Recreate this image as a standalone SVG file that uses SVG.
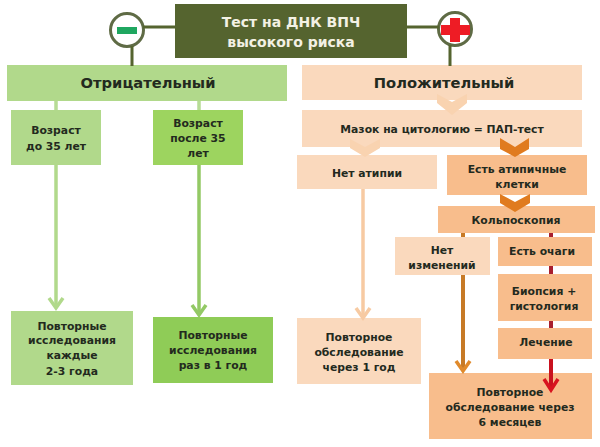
<svg xmlns="http://www.w3.org/2000/svg" width="600" height="447" viewBox="0 0 600 447">
<style>
text{font-family:"DejaVu Sans","Liberation Sans",sans-serif;font-weight:700;text-anchor:middle;fill:#232a1e;font-size:10.800px}
.big{font-size:14.700px}
.w{fill:#f3f1e4;font-size:14px}
.lg{fill:#b1d98b}.mg1{fill:#9dd45f}.mg2{fill:#8fcc57}.lo{fill:#fad9bd}.mo{fill:#f8bd8c}
.ln{fill:none}
.head{fill:none;stroke-width:3.500}
.chev-l{fill:#f9d3b0}.chev-d{fill:#e07b1f}
</style>
<rect width="600" height="447" fill="#fff"/>
<g id="root"><rect x="175" y="4" width="232" height="54" fill="#55642f"/><text class="w" x="291" y="27">Тест на ДНК ВПЧ</text><text class="w" x="291" y="47">высокого риска</text></g>
<g id="minus"><circle cx="127" cy="30" r="16.500" fill="#fff" stroke="#5f6b45" stroke-width="3"/><rect x="117" y="27" width="20" height="7" fill="#1fa760"/></g>
<g id="plus"><circle cx="455" cy="29" r="16.500" fill="#fff" stroke="#5f6b45" stroke-width="3"/><path d="M450 18H460V25H470V35H460V42H450V35H441V25H450Z" fill="#ee1c25"/></g>
<g id="neg"><rect x="7" y="65" width="280" height="36" class="lg"/><text class="big" x="148" y="88">Отрицательный</text></g>
<g id="age1"><rect x="11" y="110" width="90" height="55" class="lg"/><text x="56" y="134">Возраст</text><text x="56" y="150">до 35 лет</text></g>
<g id="age2"><rect x="153" y="110" width="90" height="55" class="mg1"/><text x="198" y="127">Возраст</text><text x="198" y="142">после 35</text><text x="198" y="157">лет</text></g>
<g id="rep1"><rect x="11" y="311" width="122" height="74" class="lg"/><text x="72" y="330">Повторные</text><text x="72" y="344">исследования</text><text x="72" y="359">каждые</text><text x="72" y="375">2-3 года</text></g>
<g id="rep2"><rect x="153" y="317" width="120" height="66" class="mg2"/><text x="213" y="339">Повторные</text><text x="213" y="354">исследования</text><text x="213" y="369">раз в 1 год</text></g>
<g id="pos"><rect x="302" y="65" width="280" height="35" class="lo"/><text class="big" x="444" y="88">Положительный</text></g>
<g id="pap"><rect x="302" y="110" width="280" height="37" class="lo"/><text x="442" y="133">Мазок на цитологию = ПАП-тест</text></g>
<g id="noatyp"><rect x="297" y="155" width="140" height="34" class="lo"/><text x="367" y="177">Нет атипии</text></g>
<g id="atyp"><rect x="447" y="155" width="140" height="40" class="mo"/><text x="517" y="173">Есть атипичные</text><text x="517" y="188">клетки</text></g>
<g id="colpo"><rect x="438" y="206" width="157" height="27" class="mo"/><text x="516" y="224">Кольпоскопия</text></g>
<g id="nochange"><rect x="395" y="237" width="95" height="38" class="lo"/><text x="442" y="254">Нет</text><text x="442" y="269">изменений</text></g>
<g id="foci"><rect x="498" y="237" width="94" height="29" class="mo"/><text x="542" y="255">Есть очаги</text></g>
<g id="biopsy"><rect x="498" y="274" width="94" height="47" class="mo"/><text x="544" y="295">Биопсия +</text><text x="544" y="310">гистология</text></g>
<g id="treat"><rect x="498" y="328" width="94" height="31" class="mo"/><text x="546" y="346">Лечение</text></g>
<g id="rep3"><rect x="297" y="318" width="124" height="66" class="lo"/><text x="359" y="341">Повторное</text><text x="359" y="356">обследование</text><text x="359" y="371">через 1 год</text></g>
<g id="rep4"><rect x="429" y="373" width="163" height="66" class="mo"/><text x="510" y="396">Повторное</text><text x="510" y="411">обследование через</text><text x="510" y="426">6 месяцев</text></g>
<g id="connectors">
<path class="ln" d="M143 27H176M132 46V66M407 27H439M450 45V66" stroke="#55642f" stroke-width="3"/>
<path class="ln" d="M56 101V110M199 101V110" stroke="#b7dc95" stroke-width="3.500"/>
<path class="ln" d="M56 165V307" stroke="#b1d98b" stroke-width="3.500"/>
<path class="head" d="M49 298L56 308L63 298" stroke="#b1d98b"/>
<path class="ln" d="M199 165V314" stroke="#93c965" stroke-width="3.500"/>
<path class="head" d="M192 305L199 315L206 305" stroke="#93c965"/>
<path class="ln" d="M363 189V316" stroke="#f7caa2" stroke-width="3.500"/>
<path class="head" d="M356 308L363 318L370 308" stroke="#f7caa2"/>
<path class="ln" d="M463 233V237M463 275V369" stroke="#c77a26" stroke-width="4"/>
<path class="head" d="M456 361L463 371L470 361" stroke="#e08a2c"/>
<path class="ln" d="M551 233V237M551 266V274M551 321V328" stroke="#a81f2e" stroke-width="4"/>
<path class="ln" d="M551 359V389" stroke="#c9121f" stroke-width="4"/>
<path class="head" d="M544 379L551 390L558 379" stroke="#d8141f"/>
</g>
<g id="chevrons">
<path class="chev-l" d="M437 94L452 102L467 94V103L452 115L437 103Z"/>
<path class="chev-l" d="M350 139L365 147L380 139V148L365 157L350 148Z"/>
<path class="chev-d" d="M500 138L515 147L529 138V149L515 157L500 149Z"/>
<path class="chev-d" d="M500 194L515 202L530 194V203L515 212L500 203Z"/>
</g>
</svg>
